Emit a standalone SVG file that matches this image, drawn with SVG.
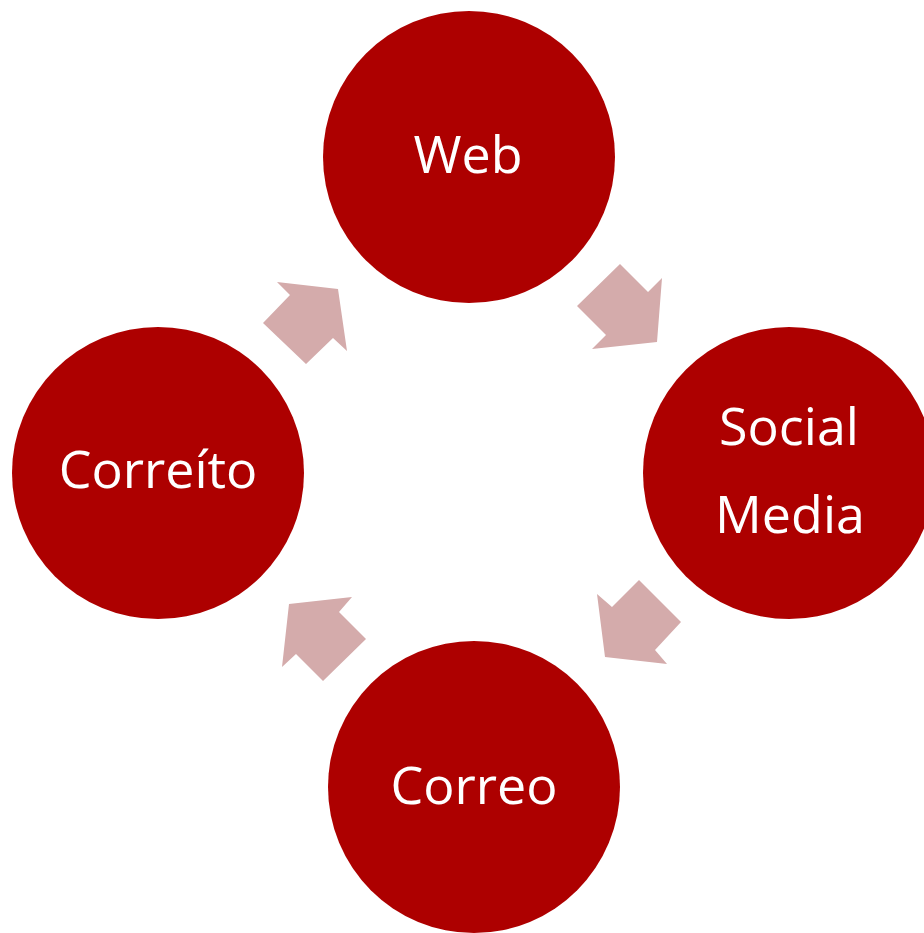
<svg xmlns="http://www.w3.org/2000/svg" width="924" height="933" viewBox="0 0 924 933">
<style>
.node circle{fill:#AD0000}
.node text{fill:#FFFFFF;font-family:"Open Sans","Liberation Sans",sans-serif;font-size:52px;text-anchor:middle}
.arrow{fill:#D4ABAB}
</style>
<rect width="924" height="933" fill="#FFFFFF"/>
<g id="connectors">
<polygon class="arrow" points="620,264 577,306 606,335 592,349 657,342 662,278 648,292"/>
<polygon class="arrow" points="639,580 681,622 655,650 667,664 605,657 597,594 612,607"/>
<polygon class="arrow" points="339,612 366,639 323,681 296,654 282,667 289,604 352,597"/>
<polygon class="arrow" points="263,323 306,364 333,338 347,351 338,289 277,282 290,295"/>
</g>
<g id="web" class="node">
<circle cx="469" cy="157" r="146"/>
<text x="468" y="173">Web</text>
</g>
<g id="social-media" class="node">
<circle cx="789" cy="473" r="146"/>
<text x="789" y="445">Social</text>
<text x="790" y="533">Media</text>
</g>
<g id="correo" class="node">
<circle cx="474" cy="787" r="146"/>
<text x="474" y="804">Correo</text>
</g>
<g id="correito" class="node">
<circle cx="158" cy="473" r="146"/>
<text x="158" y="488">Correíto</text>
</g>
</svg>
